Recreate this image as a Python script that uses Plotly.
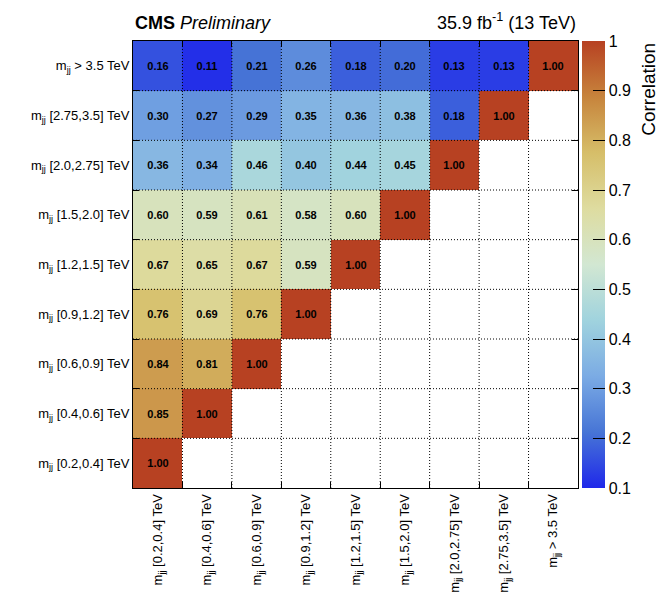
import plotly.graph_objects as go

# Dijet mass bins (low to high)
bins = ["[0.2,0.4]", "[0.4,0.6]", "[0.6,0.9]", "[0.9,1.2]", "[1.2,1.5]",
        "[1.5,2.0]", "[2.0,2.75]", "[2.75,3.5]", "> 3.5"]
tick_labels = [("m<sub>jj</sub> " + b + " TeV") for b in bins]

# Lower-triangular correlation matrix, one row per bin (row i has i+1 entries)
row_0 = [1.00]
row_1 = [0.85, 1.00]
row_2 = [0.84, 0.81, 1.00]
row_3 = [0.76, 0.69, 0.76, 1.00]
row_4 = [0.67, 0.65, 0.67, 0.59, 1.00]
row_5 = [0.60, 0.59, 0.61, 0.58, 0.60, 1.00]
row_6 = [0.36, 0.34, 0.46, 0.40, 0.44, 0.45, 1.00]
row_7 = [0.30, 0.27, 0.29, 0.35, 0.36, 0.38, 0.18, 1.00]
row_8 = [0.16, 0.11, 0.21, 0.26, 0.18, 0.20, 0.13, 0.13, 1.00]
rows = [row_0, row_1, row_2, row_3, row_4, row_5, row_6, row_7, row_8]

n = len(bins)
z = [r + [None] * (n - len(r)) for r in rows]

# ROOT "light temperature" palette
palette = [(31, 40, 234), (71, 117, 214), (123, 171, 228), (160, 211, 222),
           (210, 231, 210), (222, 220, 160), (214, 190, 105), (199, 132, 60),
           (183, 65, 34)]
colorscale = [[i / (len(palette) - 1), "rgb(%d,%d,%d)" % c] for i, c in enumerate(palette)]

FONT = "Liberation Sans, Arial, Helvetica, sans-serif"

fig = go.Figure()
fig.add_trace(go.Heatmap(
    z=z, x=list(range(n)), y=list(range(n)),
    zmin=0.1, zmax=1.0, colorscale=colorscale,
    texttemplate="%{z:.2f}",
    textfont=dict(family=FONT, size=11, color="black", weight="bold"),
    hoverongaps=False,
    colorbar=dict(
        x=1.009, xanchor="left", xpad=0, y=0.5, yanchor="middle", ypad=0,
        len=1, lenmode="fraction", thickness=23, outlinewidth=0,
        tick0=0.1, dtick=0.1, ticks="inside", ticklen=12, tickcolor="black",
        tickfont=dict(family=FONT, size=16, color="black"),
    ),
))

# Fine dotted cell boundaries drawn over the cells
grid_line = dict(color="black", width=1, dash="1px,2px")
shapes = []
for k in range(1, n):
    b = k - 0.5
    shapes.append(dict(type="line", xref="x", yref="y", x0=b, x1=b, y0=-0.5, y1=n - 0.5,
                       line=grid_line, layer="above"))
    shapes.append(dict(type="line", xref="x", yref="y", y0=b, y1=b, x0=-0.5, x1=n - 0.5,
                       line=grid_line, layer="above"))

bounds = [k - 0.5 for k in range(1, n)]
axis_common = dict(
    range=[-0.5, n - 0.5], tickvals=list(range(n)), ticktext=tick_labels,
    ticks="", showgrid=False, zeroline=False, showline=True, linecolor="black",
    linewidth=1, mirror="ticks",
    minor=dict(tickvals=bounds, ticks="inside", ticklen=6, tickcolor="black", showgrid=False),
    tickfont=dict(family=FONT, size=13, color="black"),
    fixedrange=True,
)

fig.update_layout(
    width=660, height=608,
    margin=dict(l=133, r=82, t=41, b=120),
    paper_bgcolor="white", plot_bgcolor="white",
    xaxis=dict(axis_common, tickangle=-90),
    yaxis=dict(axis_common),
    shapes=shapes,
    annotations=[
        dict(text="<b>CMS</b> <i>Preliminary</i>", x=0, y=1, xref="paper", yref="paper",
             xanchor="left", yanchor="bottom", yshift=6, showarrow=False,
             font=dict(family=FONT, size=18, color="black")),
        dict(text="35.9 fb<sup>-1</sup> (13 TeV)", x=1, y=1, xref="paper", yref="paper",
             xanchor="right", yanchor="bottom", yshift=6, showarrow=False,
             font=dict(family=FONT, size=18, color="black")),
        dict(text="Correlation", x=1.158, y=1, xref="paper", yref="paper",
             xanchor="center", yanchor="top", textangle=-90, showarrow=False,
             font=dict(family=FONT, size=19, color="black")),
    ],
)

fig.write_html("out.html")
